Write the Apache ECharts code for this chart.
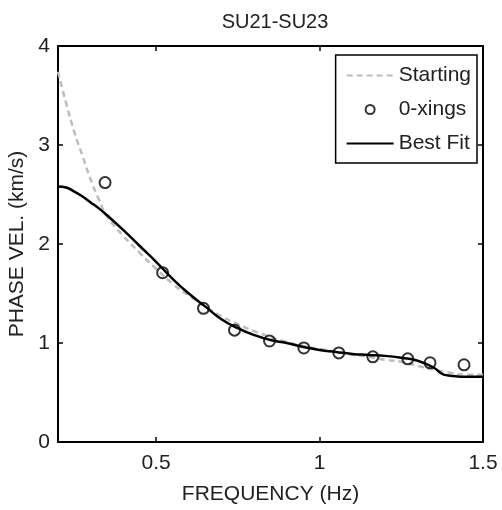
<!DOCTYPE html>
<html>
<head>
<meta charset="utf-8">
<script src="https://cdn.jsdelivr.net/npm/echarts@6/dist/echarts.min.js"></script>
<style>
  html, body { margin: 0; padding: 0; background: #fff; }
  #chart { width: 502px; height: 510px; }
</style>
</head>
<body>
<div id="chart"></div>
<script>
// frequency grid (Hz) shared by both model curves
var freq = [0.2, 0.225, 0.25, 0.275, 0.3, 0.325, 0.35, 0.4, 0.45, 0.5, 0.55, 0.6, 0.65, 0.7, 0.75, 0.8, 0.85, 0.9, 0.95, 1.0, 1.05, 1.1, 1.15, 1.2, 1.25, 1.3, 1.35, 1.38, 1.4, 1.45, 1.5];
var startVel = [3.74, 3.42, 3.13, 2.89, 2.65, 2.45, 2.28, 2.08, 1.91, 1.75, 1.6, 1.48, 1.37, 1.27, 1.19, 1.12, 1.06, 1.01, 0.97, 0.94, 0.91, 0.88, 0.86, 0.83, 0.81, 0.77, 0.73, 0.71, 0.7, 0.68, 0.68];
var fitVel = [2.58, 2.57, 2.53, 2.48, 2.42, 2.36, 2.29, 2.14, 1.98, 1.82, 1.65, 1.5, 1.37, 1.24, 1.15, 1.08, 1.03, 1.0, 0.96, 0.93, 0.91, 0.89, 0.88, 0.87, 0.85, 0.82, 0.75, 0.68, 0.67, 0.66, 0.66];

// zero-crossing picks
var xingFreq = [0.344, 0.52, 0.645, 0.74, 0.847, 0.952, 1.059, 1.163, 1.27, 1.338, 1.442];
var xingVel = [2.62, 1.71, 1.35, 1.13, 1.02, 0.95, 0.90, 0.86, 0.84, 0.80, 0.78];

var xTicks = [0.5, 1, 1.5];

function pairs(xs, ys) {
    var out = [];
    for (var i = 0; i < xs.length; i++) out.push([xs[i], ys[i]]);
    return out;
}

var myChart = echarts.init(document.getElementById('chart'));
var txt = '#222';
var fam = 'Liberation Sans, Arial, sans-serif';
var fs = 21;

var boxAxis = {
    axisLine: { show: true, onZero: false, lineStyle: { color: '#000', width: 2 } },
    splitLine: { show: false }
};
var tickStyle = { color: '#000', width: 1.5 };

var option = {
    animation: false,
    backgroundColor: '#fff',
    title: {
        text: 'SU21-SU23',
        left: 270,
        top: 7,
        textAlign: 'center',
        textStyle: { fontSize: 20, fontWeight: 'normal', color: txt, fontFamily: fam }
    },
    legend: {
        right: 25,
        top: 55,
        orient: 'vertical',
        align: 'left',
        itemWidth: 47,
        itemHeight: 9,
        itemGap: 13,
        padding: [10, 6, 9, 10],
        borderColor: '#000',
        borderWidth: 1.5,
        backgroundColor: '#fff',
        textStyle: { fontSize: fs, color: txt, fontFamily: fam },
        data: [
            { name: 'Starting', itemStyle: { opacity: 0 } },
            { name: '0-xings' },
            { name: 'Best Fit', itemStyle: { opacity: 0 } }
        ]
    },
    grid: { left: 58, right: 19, top: 46, bottom: 68, outerBoundsMode: 'none', containLabel: false },
    xAxis: [
        Object.assign({
            type: 'value', position: 'bottom', min: 0.2, max: 1.5,
            name: 'FREQUENCY (Hz)', nameLocation: 'middle', nameGap: 42,
            nameTextStyle: { fontSize: fs, color: txt, fontFamily: fam },
            axisTick: { show: true, inside: true, length: 5, customValues: xTicks, lineStyle: tickStyle },
            axisLabel: { customValues: xTicks, fontSize: fs, color: txt, fontFamily: fam, margin: 11,
                formatter: function (v) { return String(v); } }
        }, boxAxis),
        Object.assign({
            type: 'value', position: 'top', min: 0.2, max: 1.5,
            axisTick: { show: true, inside: true, length: 5, customValues: xTicks, lineStyle: tickStyle },
            axisLabel: { show: false }
        }, boxAxis)
    ],
    yAxis: [
        Object.assign({
            type: 'value', position: 'left', min: 0, max: 4, interval: 1,
            name: 'PHASE VEL. (km/s)', nameLocation: 'middle', nameGap: 29,
            nameTextStyle: { fontSize: fs, color: txt, fontFamily: fam },
            axisTick: { show: true, inside: true, length: 5, lineStyle: tickStyle },
            axisLabel: { fontSize: fs, color: txt, fontFamily: fam, margin: 8 }
        }, boxAxis),
        Object.assign({
            type: 'value', position: 'right', min: 0, max: 4, interval: 1,
            axisTick: { show: true, inside: true, length: 5, lineStyle: tickStyle },
            axisLabel: { show: false }
        }, boxAxis)
    ],
    series: [
        {
            name: 'Starting',
            type: 'line',
            smooth: true,
            showSymbol: false,
            symbol: 'none',
            data: pairs(freq, startVel),
            lineStyle: { color: '#bdbdbd', width: 2.5, type: [6, 4] },
            itemStyle: { color: '#bdbdbd' },
            z: 2
        },
        {
            name: 'Best Fit',
            type: 'line',
            smooth: true,
            showSymbol: false,
            symbol: 'none',
            data: pairs(freq, fitVel),
            lineStyle: { color: '#000', width: 2.5 },
            itemStyle: { color: '#000' },
            z: 3
        },
        {
            name: '0-xings',
            type: 'scatter',
            symbol: 'circle',
            symbolSize: 11,
            data: pairs(xingFreq, xingVel),
            itemStyle: { color: 'rgba(255,255,255,0)', borderColor: '#000', borderWidth: 2 },
            z: 4
        }
    ]
};

option && myChart.setOption(option);
</script>
</body>
</html>
